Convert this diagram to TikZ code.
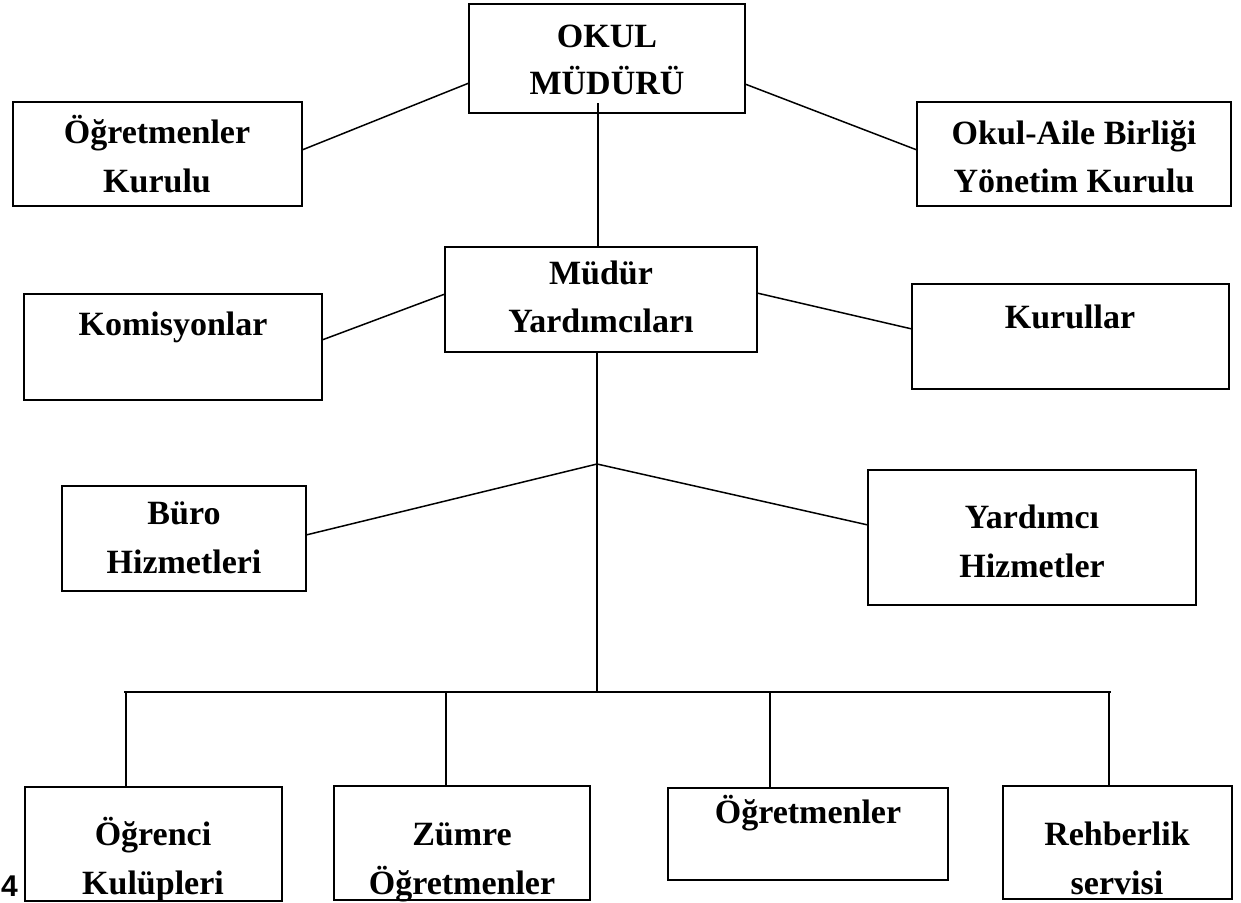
\documentclass[tikz,border=0pt]{standalone}
\usepackage{fontspec}
\setmainfont{Liberation Serif}
\newfontfamily\numfont{Liberation Sans}
\usetikzlibrary{calc}
\tikzset{
  box/.style={draw=black, line width=1.8pt, rectangle, inner sep=0pt, outer sep=0pt},
  lbl/.style={anchor=base, inner sep=0pt, font=\fontsize{34}{40}\selectfont\bfseries},
  conn/.style={draw=black, line width=1.5pt}
}
\newcommand{\bx}[5]{\node[box, minimum width=#4-#2, minimum height=#5-#3] (#1) at ({(#2+#4)/2},{(#3+#5)/2}) {};}
\begin{document}
\begin{tikzpicture}[x=1pt,y=-1pt]
\useasboundingbox[fill=white] (0,0) rectangle (1241,902);
% boxes
\bx{okul}{469}{4}{745}{113}
\bx{ogk}{13}{102}{302}{206}
\bx{oab}{917}{102}{1231}{206}
\bx{my}{445}{247}{757}{352}
\bx{kom}{24}{294}{322}{400}
\bx{kur}{912}{284}{1229}{389}
\bx{buro}{62}{486}{306}{591}
\bx{yh}{868}{470}{1196}{605}
\bx{ok}{25}{787}{282}{901}
\bx{zo}{334}{786}{590}{900}
\bx{og}{668}{788}{948}{880}
\bx{rs}{1003}{786}{1232}{899}
% texts
\node[lbl] (t1a) at (607,47) {OKUL};
\node[lbl] (t1b) at (607,94) {MÜDÜRÜ};
\node[lbl] (t2a) at (157,143) {Öğretmenler};
\node[lbl] (t2b) at (157,192) {Kurulu};
\node[lbl] (t3a) at (1074,144) {Okul-Aile Birliği};
\node[lbl] (t3b) at (1074,192) {Yönetim Kurulu};
\node[lbl] (t4a) at (601,284) {Müdür};
\node[lbl] (t4b) at (601,332) {Yardımcıları};
\node[lbl] (t5) at (173,335) {Komisyonlar};
\node[lbl] (t6) at (1070,328) {Kurullar};
\node[lbl] (t7a) at (184,524) {Büro};
\node[lbl] (t7b) at (184,573) {Hizmetleri};
\node[lbl] (t8a) at (1032,528) {Yardımcı};
\node[lbl] (t8b) at (1032,577) {Hizmetler};
\node[lbl] (t9a) at (153,845) {Öğrenci};
\node[lbl] (t9b) at (153,894) {Kulüpleri};
\node[lbl] (t10a) at (462,845) {Zümre};
\node[lbl] (t10b) at (462,894) {Öğretmenler};
\node[lbl] (t11) at (808,823) {Öğretmenler};
\node[lbl] (t12a) at (1117,845) {Rehberlik};
\node[lbl] (t12b) at (1117,894) {servisi};
\node[anchor=base west, inner sep=0pt, font=\numfont\fontsize{30}{34}\selectfont\bfseries] (pg) at (1,896) {4};
% coordinates
\coordinate (okin) at (598,103);
\coordinate (j1) at (597,464);
\coordinate (hb) at (597,692);
\coordinate (hl) at (124,692);
\coordinate (hr) at (1111,692);
% connectors
\draw[conn] (okin) -- (my.north -| okin);
\draw[conn] (okul.west |- 0,83) -- (ogk.east |- 0,150);
\draw[conn] (okul.east |- 0,84) -- (oab.west |- 0,150);
\draw[conn] (my.west |- 0,294) -- (kom.east |- 0,340);
\draw[conn] (my.east |- 0,293) -- (kur.west |- 0,329);
\draw[conn] (my.south -| j1) -- (hb);
\draw[conn] (j1) -- (buro.east |- 0,535);
\draw[conn] (j1) -- (yh.west |- 0,525);
\draw[conn] (hl) -- (hr);
\draw[conn] (hl -| 126,0) -- (ok.north -| 126,0);
\draw[conn] (hl -| 446,0) -- (zo.north -| 446,0);
\draw[conn] (hl -| 770,0) -- (og.north -| 770,0);
\draw[conn] (hl -| 1109,0) -- (rs.north -| 1109,0);
\end{tikzpicture}
\end{document}
